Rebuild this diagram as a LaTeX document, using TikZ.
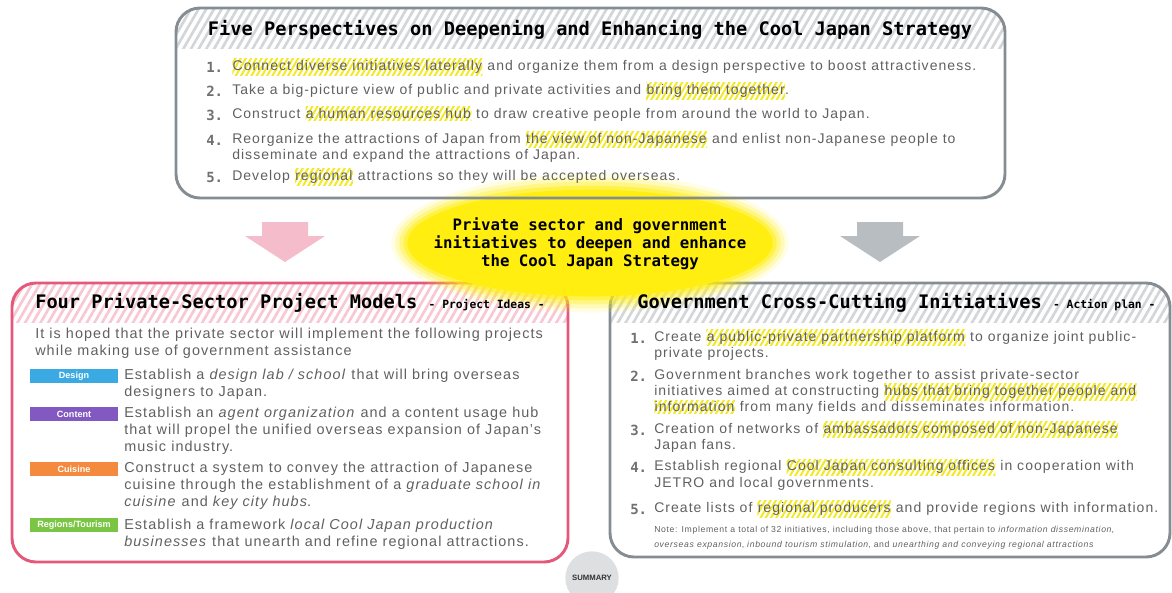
\documentclass[tikz,border=0pt]{standalone}
\usepackage{fontspec}
\setmainfont{Liberation Sans}[LetterSpace=7.5]
\newfontfamily\gothic{DejaVu Sans Mono}
\newfontfamily\tagfont{Liberation Sans}
\usetikzlibrary{patterns.meta}

\definecolor{panelgray}{HTML}{858D93}
\definecolor{hatchgray}{HTML}{D3D6D9}
\definecolor{panelpink}{HTML}{E4587B}
\definecolor{hatchpink}{HTML}{F7C8D3}
\definecolor{arrowpink}{HTML}{F5BDCB}
\definecolor{arrowgray}{HTML}{B8BDC1}
\definecolor{glowyellow}{HTML}{FFEE10}
\definecolor{hlyellow}{HTML}{F3E824}
\definecolor{bodygray}{HTML}{606060}
\definecolor{numgray}{HTML}{707070}
\definecolor{tagblue}{HTML}{3BA9E2}
\definecolor{tagpurple}{HTML}{8259C0}
\definecolor{tagorange}{HTML}{F48A3D}
\definecolor{taggreen}{HTML}{7BC544}
\definecolor{sumgray}{HTML}{DDDFE1}

\tikzset{
  panel/.style={line width=2.2pt,rounded corners=18pt},
  hatch/.style={pattern={Lines[angle=60,distance=5pt,line width=2pt]},pattern color=#1},
  hlbox/.style={inner xsep=0.3pt,inner ysep=1.2pt,text=bodygray,
    pattern={Lines[angle=60,distance=3.4pt,line width=1.5pt]},pattern color=hlyellow},
  heading/.style={inner sep=0pt,text=black,font=\gothic\bfseries\fontsize{14}{16}\selectfont},
  num/.style={anchor=west,inner sep=0pt,text=numgray,font=\gothic\bfseries\fontsize{10.5}{12}\selectfont},
  item/.style={anchor=west,inner sep=0pt,align=left,text=bodygray,font=\fontsize{10.5}{12.2}\selectfont},
  tag/.style={minimum width=66pt,minimum height=10.5pt,inner sep=0pt,text=white,font=\tagfont\bfseries\fontsize{6.8}{7}\selectfont},
}
\newcommand{\hl}[1]{\smash{\tikz[baseline=(mark.base)]\node[hlbox](mark){#1};}}

\begin{document}
\begin{tikzpicture}[x=0.75pt,y=-0.75pt]
\useasboundingbox (0,0) rectangle (1172,593);

% lower panels
\begin{scope}
  \clip[rounded corners=18pt] (12,283) rectangle (568,562);
  \fill[hatch=hatchpink] (12,283) rectangle (568,322);
\end{scope}
\draw[panel,panelpink] (12,283) rectangle (568,562);
\begin{scope}
  \clip[rounded corners=18pt] (610,283) rectangle (1170,557);
  \fill[hatch=hatchgray] (610,283) rectangle (1170,322);
\end{scope}
\draw[panel,panelgray] (610,283) rectangle (1170,557);

% arrows
\fill[arrowpink] (262,222) -- (308,222) -- (308,236) -- (325,236) -- (285,262) -- (245,236) -- (262,236) -- cycle;
\fill[arrowgray] (857,222) -- (903,222) -- (903,236) -- (920,236) -- (880,262) -- (840,236) -- (857,236) -- cycle;

% yellow glow
\foreach \rx/\ry/\o in {149/52/0.12,146/49/0.2,143/46/0.3,140/43/0.5,137/40/1}
  \fill[glowyellow,opacity=\o] (590,243) ellipse [x radius=\rx pt,y radius=\ry pt];

% top panel
\begin{scope}
  \clip[rounded corners=18pt] (176,8) rectangle (1005,198);
  \fill[hatch=hatchgray] (176,8) rectangle (1005,48);
\end{scope}
\draw[panel,panelgray] (176,8) rectangle (1005,198);
\node[heading](fiveTitle) at (590,30) {Five Perspectives on Deepening and Enhancing the Cool Japan Strategy};
\foreach \n/\y in {1/67,2/91,3/115,4/140,5/177}
  \node[num](p\n) at (206,\y) {\n.};
\node[item](pText1) at (232,67) {\hl{Connect diverse initiatives laterally} and organize them from a design perspective to boost attractiveness.};
\node[item](pText2) at (232,91) {Take a big-picture view of public and private activities and \hl{bring them together}.};
\node[item](pText3) at (232,115) {Construct \hl{a human resources hub} to draw creative people from around the world to Japan.};
\node[item](pText4) at (232,148) {Reorganize the attractions of Japan from \hl{the view of non-Japanese} and enlist non-Japanese people to\\disseminate and expand the attractions of Japan.};
\node[item](pText5) at (232,177) {Develop \hl{regional} attractions so they will be accepted overseas.};

% centre message
\node[align=center,inner sep=0pt,font=\gothic\bfseries\fontsize{11.8}{13.5}\selectfont](message) at (590,244)
  {Private sector and government\\initiatives to deepen and enhance\\the Cool Japan Strategy};

% private sector panel
\node[heading,anchor=west](fourTitle) at (35,303) {Four Private-Sector Project Models {\fontsize{8.5}{9}\selectfont- Project Ideas -}};
\node[item,font=\fontsize{10.8}{12.75}\selectfont](intro) at (35,343.5) {It is hoped that the private sector will implement the following projects\\while making use of government assistance};
\node[tag,fill=tagblue](tagDesign) at (74,376) {Design};
\node[tag,fill=tagpurple](tagContent) at (74,414) {Content};
\node[tag,fill=tagorange](tagCuisine) at (74,469) {Cuisine};
\node[tag,fill=taggreen](tagRegions) at (74,525) {Regions/Tourism};
\node[item,font=\fontsize{10.8}{12.75}\selectfont](design) at (124,384) {Establish a \textit{design lab / school} that will bring overseas\\designers to Japan.};
\node[item,font=\fontsize{10.8}{12.75}\selectfont](content) at (124,431) {Establish an \textit{agent organization} and a content usage hub\\that will propel the unified overseas expansion of Japan's\\music industry.};
\node[item,font=\fontsize{10.8}{12.75}\selectfont](cuisine) at (124,486) {Construct a system to convey the attraction of Japanese\\cuisine through the establishment of a \textit{graduate school in}\\\textit{cuisine} and \textit{key city hubs}.};
\node[item,font=\fontsize{10.8}{12.75}\selectfont](regions) at (124,534) {Establish a framework \textit{local Cool Japan production}\\\textit{businesses} that unearth and refine regional attractions.};

% government panel
\node[heading,anchor=west](govTitle) at (637,303) {Government Cross-Cutting Initiatives {\fontsize{8.5}{9}\selectfont- Action plan -}};
\foreach \n/\y in {1/338,2/376,3/430,4/467,5/509}
  \node[num](g\n) at (630,\y) {\n.};
\node[item](gText1) at (654,346) {Create \hl{a public-private partnership platform} to organize joint public-\\private projects.};
\node[item](gText2) at (654,392) {Government branches work together to assist private-sector\\initiatives aimed at constructing \hl{hubs that bring together people and}\\\hl{information} from many fields and disseminates information.};
\node[item](gText3) at (654,438) {Creation of networks of \hl{ambassadors composed of non-Japanese}\\Japan fans.};
\node[item](gText4) at (654,475.5) {Establish regional \hl{Cool Japan consulting offices} in cooperation with\\JETRO and local governments.};
\node[item](gText5) at (654,509) {Create lists of \hl{regional producers} and provide regions with information.};
\node[item,font=\fontsize{6.5}{11}\selectfont](note) at (654,537.5) {Note: Implement a total of 32 initiatives, including those above, that pertain to \textit{information dissemination},\\\textit{overseas expansion}, \textit{inbound tourism stimulation}, and \textit{unearthing and conveying regional attractions}};

% summary tab
\node[circle,fill=sumgray,minimum size=40pt,inner sep=0pt,text=black!80,font=\tagfont\bfseries\fontsize{5.8}{6}\selectfont](summary) at (592,578) {SUMMARY};
\end{tikzpicture}
\end{document}
